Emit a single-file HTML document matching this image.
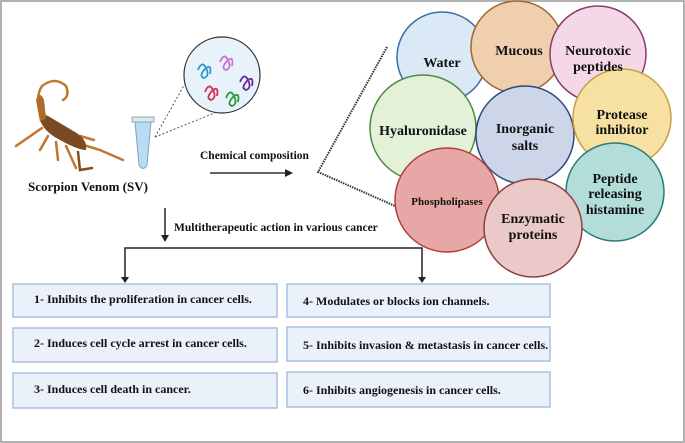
<!DOCTYPE html>
<html><head><style>
body{margin:0;background:#fff}
svg{display:block}
text{font-family:"Liberation Serif",serif;font-weight:bold;fill:#111}
</style></head><body>
<svg width="685" height="443" viewBox="0 0 685 443">
<rect x="1" y="1" width="683" height="441" fill="#fff" stroke="#999" stroke-width="1.5"/>
<!-- scorpion -->
<g stroke="#c0782e" stroke-width="2.5" fill="none" stroke-linecap="round">
<path d="M42 120 Q34 98 42 86 Q55 76 66 86 Q70 96 63 100"/>
<path d="M42 128 L16 146 M48 136 L40 150 M56 142 L58 160 M66 146 L76 168 M74 142 L100 150 L123 160 M80 136 L94 140"/>
<path d="M78 152 L80 170 L92 168" stroke="#8a4a1a"/>
</g>
<path d="M40 120 Q40 112 48 116 L75 132 Q88 140 86 150 Q78 150 60 140 Q44 132 40 120Z" fill="#7a4a22"/>
<path d="M40 122 L36 100 Q40 90 44 100 L46 118Z" fill="#b06a2a"/>
<!-- vial -->
<rect x="132" y="117" width="22" height="5" fill="#dfe8ef" stroke="#8aa" stroke-width="1"/>
<path d="M135 122 L151 122 L147 165 Q143 172 139 165Z" fill="#b8dcf2" stroke="#7aa6c4" stroke-width="1"/>
<!-- zoom circle -->
<line x1="155" y1="137" x2="187" y2="80" stroke="#555" stroke-dasharray="2,2"/>
<line x1="155" y1="137" x2="217" y2="112" stroke="#555" stroke-dasharray="2,2"/>
<circle cx="222" cy="75" r="38" fill="#e8f2fb" stroke="#333" stroke-width="1.2"/>
<g fill="none" stroke-width="1.8">
<path d="M198 70 q4 -10 8 -2 q4 8 -2 10 q-6 -2 2 -10 q6 -4 4 6" stroke="#2a9ad0"/>
<path d="M220 62 q4 -10 8 -2 q4 8 -2 10 q-6 -2 2 -10 q6 -4 4 6" stroke="#d070d0"/>
<path d="M205 92 q4 -10 8 -2 q4 8 -2 10 q-6 -2 2 -10 q6 -4 4 6" stroke="#d0304a"/>
<path d="M226 98 q4 -10 8 -2 q4 8 -2 10 q-6 -2 2 -10 q6 -4 4 6" stroke="#2a9a3a"/>
<path d="M240 82 q4 -10 8 -2 q4 8 -2 10 q-6 -2 2 -10 q6 -4 4 6" stroke="#6a2a9a"/>
</g>
<text x="88" y="191" font-size="13" text-anchor="middle">Scorpion Venom (SV)</text>
<text x="200" y="159" font-size="11.5">Chemical composition</text>
<line x1="210" y1="173" x2="286" y2="173" stroke="#333" stroke-width="1.5"/>
<path d="M285 169 L293 173 L285 177Z" fill="#222"/>
<line x1="165" y1="208" x2="165" y2="236" stroke="#222" stroke-width="1.5"/>
<path d="M161 235 L165 242 L169 235Z" fill="#222"/>
<text x="174" y="231" font-size="11.5">Multitherapeutic action in various cancer</text>
<polyline points="125,278 125,248 422,248 422,278" fill="none" stroke="#222" stroke-width="1.5"/>
<path d="M121 277 L125 283 L129 277Z M418 277 L422 283 L426 277Z" fill="#222"/>
<!-- dotted -->
<polyline points="387,47 318,172 395,206" fill="none" stroke="#333" stroke-width="2" stroke-dasharray="1.5,1"/>
<!-- circles -->
<g stroke-width="1.5">
<circle cx="442" cy="57" r="45" fill="#dbe8f6" stroke="#3d6fa6"/>
<circle cx="517" cy="47" r="46" fill="#efcfae" stroke="#a0652a"/>
<circle cx="598" cy="54" r="48" fill="#f4d8e8" stroke="#8e3a6a"/>
<circle cx="423" cy="128" r="53" fill="#e2f1d8" stroke="#4a8a3a"/>
<circle cx="525" cy="135" r="49" fill="#cdd5e8" stroke="#2f4a7a"/>
<circle cx="622" cy="118" r="49" fill="#f6e1a2" stroke="#c8a040"/>
<circle cx="447" cy="200" r="52" fill="#e8a7a7" stroke="#b04040"/>
<circle cx="615" cy="192" r="49" fill="#b2ddd8" stroke="#2a7a75"/>
<circle cx="533" cy="228" r="49" fill="#ecc9c9" stroke="#8a4040"/>
</g>
<g font-size="14" text-anchor="middle">
<text x="442" y="67">Water</text>
<text x="519" y="55">Mucous</text>
<text x="598" y="55">Neurotoxic</text><text x="598" y="71">peptides</text>
<text x="423" y="135">Hyaluronidase</text>
<text x="525" y="133">Inorganic</text><text x="525" y="150">salts</text>
<text x="622" y="119">Protease</text><text x="622" y="134">inhibitor</text>
<text x="447" y="205" font-size="11">Phospholipases</text>
<text x="615" y="183">Peptide</text><text x="615" y="198">releasing</text><text x="615" y="214">histamine</text>
<text x="533" y="223">Enzymatic</text><text x="533" y="239">proteins</text>
</g>
<!-- boxes -->
<g fill="#eaf1fb" stroke="#a9bfe0" stroke-width="1.5">
<rect x="13" y="284" width="264" height="33"/>
<rect x="13" y="328" width="264" height="34"/>
<rect x="13" y="373" width="264" height="35"/>
<rect x="287" y="284" width="263" height="33"/>
<rect x="287" y="327" width="263" height="34"/>
<rect x="287" y="372" width="263" height="35"/>
</g>
<g font-size="12">
<text x="34" y="303">1- Inhibits the proliferation in cancer cells.</text>
<text x="34" y="347">2- Induces cell cycle arrest in cancer cells.</text>
<text x="34" y="393">3- Induces cell death in cancer.</text>
<text x="303" y="305">4- Modulates or blocks ion channels.</text>
<text x="303" y="349">5- Inhibits invasion &amp; metastasis in cancer cells.</text>
<text x="303" y="394">6- Inhibits angiogenesis in cancer cells.</text>
</g>
</svg>
</body></html>
